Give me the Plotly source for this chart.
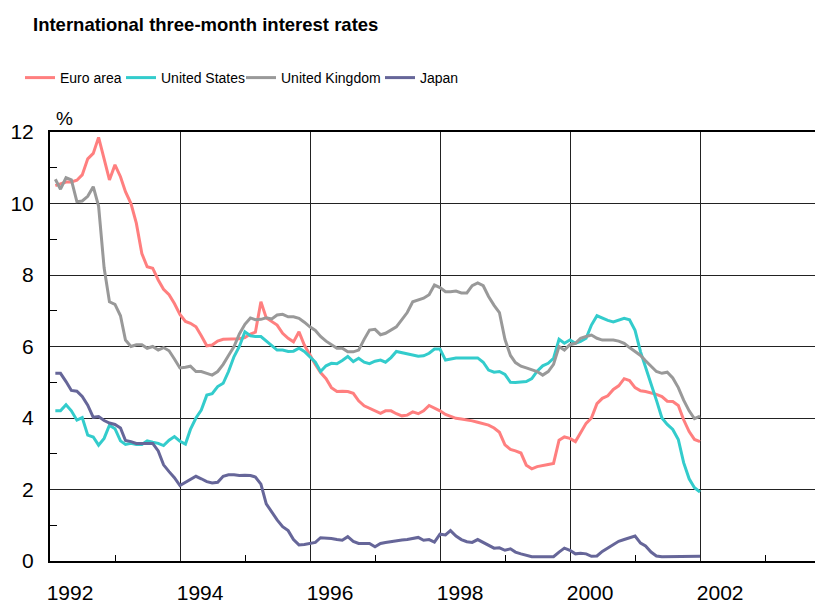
import plotly.graph_objects as go
import pandas as pd

# monthly observations, end of month, Jan 1992 - Dec 2001
months = pd.date_range("1992-01-31", "2001-12-31", freq="ME")

euro_area = [
    10.5, 10.55, 10.6, 10.6, 10.65, 10.8, 11.25, 11.4, 11.85, 11.25, 10.66, 11.08,
    10.75, 10.33, 10.0, 9.45, 8.6, 8.23, 8.19, 7.86, 7.6, 7.45, 7.2, 6.9,
    6.7, 6.65, 6.55, 6.3, 6.02, 6.04, 6.15, 6.2, 6.2, 6.2, 6.22, 6.25,
    6.35, 6.4, 7.25, 6.8, 6.7, 6.6, 6.37, 6.23, 6.13, 6.41, 6.04, 5.75,
    5.5, 5.27, 5.1, 4.85, 4.74, 4.75, 4.74, 4.69, 4.48, 4.34, 4.27, 4.18,
    4.13, 4.2, 4.2, 4.12, 4.06, 4.08, 4.17, 4.12, 4.2, 4.35, 4.28, 4.2,
    4.1, 4.04, 3.99, 3.97, 3.95, 3.92, 3.88, 3.85, 3.8, 3.72, 3.6, 3.25,
    3.12, 3.08, 3.02, 2.68, 2.58, 2.64, 2.68, 2.7, 2.73, 3.38, 3.47, 3.43,
    3.34, 3.6, 3.85, 4.0, 4.4, 4.55, 4.62, 4.8, 4.9, 5.1, 5.05, 4.85,
    4.76, 4.74, 4.71, 4.66, 4.6, 4.47, 4.46, 4.35, 3.95, 3.62, 3.4, 3.34,
]

united_states = [
    4.2, 4.2, 4.37, 4.2, 3.94, 4.01, 3.52, 3.47, 3.24, 3.43, 3.8, 3.7,
    3.36, 3.26, 3.29, 3.26, 3.26, 3.36, 3.32, 3.29, 3.23, 3.38, 3.48, 3.35,
    3.27, 3.68, 4.0, 4.22, 4.64, 4.68, 4.88, 4.97, 5.3, 5.72, 6.0, 6.41,
    6.3, 6.28, 6.28, 6.15, 6.04, 5.9, 5.9, 5.86, 5.87, 5.95, 5.86, 5.7,
    5.56, 5.3, 5.46, 5.53, 5.52, 5.61, 5.72, 5.58, 5.67, 5.56, 5.52, 5.59,
    5.62, 5.56, 5.69, 5.86, 5.83, 5.8, 5.76, 5.73, 5.74, 5.81, 5.93, 5.93,
    5.62, 5.65, 5.68, 5.68, 5.68, 5.68, 5.68, 5.56, 5.34, 5.28, 5.3, 5.22,
    5.0, 4.99, 5.0, 5.02, 5.1, 5.31, 5.46, 5.53, 5.67, 6.2, 6.09, 6.18,
    6.09, 6.14, 6.23, 6.6, 6.86, 6.79, 6.73, 6.69, 6.74, 6.79, 6.75, 6.45,
    5.85, 5.4, 4.95, 4.5, 4.0, 3.82, 3.68, 3.4, 2.75, 2.3, 2.05, 1.93,
]

united_kingdom = [
    10.68, 10.4, 10.72, 10.66, 10.05, 10.07, 10.2, 10.47, 9.93, 8.2, 7.25, 7.18,
    6.86, 6.18, 6.0, 6.05, 6.05, 5.95, 6.0, 5.9, 5.97, 5.88, 5.65, 5.4,
    5.42, 5.45, 5.3, 5.3, 5.25, 5.2, 5.3, 5.5, 5.75, 6.0, 6.35, 6.62,
    6.8, 6.75, 6.76, 6.8, 6.77, 6.88, 6.9, 6.83, 6.83, 6.79, 6.68, 6.55,
    6.45, 6.28, 6.15, 6.04, 5.95, 5.95, 5.85, 5.85, 5.9, 6.2, 6.46, 6.48,
    6.33, 6.37, 6.45, 6.55, 6.75, 6.95, 7.25, 7.3, 7.35, 7.45, 7.72, 7.65,
    7.53, 7.53, 7.55, 7.5, 7.5, 7.7, 7.78, 7.7, 7.4, 7.15, 6.95, 6.2,
    5.75, 5.55, 5.45, 5.4, 5.35, 5.3, 5.2, 5.3, 5.5, 6.0, 5.9, 6.05,
    6.09, 6.23, 6.28, 6.32, 6.23, 6.18, 6.18, 6.18, 6.15, 6.09, 5.97, 5.87,
    5.75, 5.6, 5.45, 5.3, 5.25, 5.28, 5.12, 4.85, 4.5, 4.2, 3.98, 4.05,
]

japan = [
    5.25, 5.25, 5.02, 4.77, 4.75, 4.6, 4.36, 4.02, 4.04, 3.93, 3.86, 3.82,
    3.72, 3.37, 3.34, 3.29, 3.29, 3.29, 3.29, 3.08, 2.69, 2.5, 2.33, 2.11,
    2.2, 2.29, 2.37, 2.3, 2.22, 2.18, 2.2, 2.37, 2.41, 2.41, 2.39, 2.4,
    2.39, 2.35, 2.15, 1.6, 1.36, 1.15, 0.96, 0.85, 0.6, 0.45, 0.46, 0.5,
    0.52, 0.65, 0.65, 0.63, 0.6, 0.58, 0.68, 0.55, 0.49, 0.5, 0.49, 0.4,
    0.49, 0.52, 0.55, 0.57, 0.59, 0.6, 0.63, 0.66, 0.58, 0.6, 0.53, 0.75,
    0.73, 0.85, 0.7, 0.6, 0.54, 0.52, 0.6, 0.52, 0.45, 0.36, 0.37, 0.3,
    0.34, 0.25, 0.2, 0.15, 0.12, 0.12, 0.12, 0.12, 0.12, 0.25, 0.36, 0.3,
    0.2, 0.22, 0.2, 0.13, 0.14, 0.27, 0.36, 0.45, 0.55, 0.6, 0.65, 0.7,
    0.5, 0.42, 0.25, 0.14, 0.12, 0.12, 0.12, 0.12, 0.12, 0.12, 0.12, 0.13,
]

series = [
    ("Euro area", euro_area, "#FF7F7F"),
    ("United States", united_states, "#33CCCC"),
    ("United Kingdom", united_kingdom, "#999999"),
    ("Japan", japan, "#666699"),
]

# the page body adds an 8px margin, so the figure is 8px smaller each way
W, H = 815, 597

# one legend per series so each entry sits where the original has it
legend_ids = ["legend", "legend2", "legend3", "legend4"]
legend_x = [12, 113, 233, 372]

fig = go.Figure()
for (name, vals, col), lid in zip(series, legend_ids):
    fig.add_trace(go.Scatter(x=months, y=vals, name=name, mode="lines",
                             line=dict(color=col, width=3), legend=lid))

legend_style = dict(orientation="h", xref="container", yref="container",
                    y=1 - 70 / H, yanchor="middle", font=dict(size=14),
                    itemwidth=30, bgcolor="rgba(0,0,0,0)")
legends = {lid: dict(legend_style, x=lx / W) for lid, lx in zip(legend_ids, legend_x)}

fig.update_layout(
    width=W, height=H, showlegend=True,
    margin=dict(l=42, r=0, t=124, b=44, autoexpand=False),
    paper_bgcolor="white", plot_bgcolor="white",
    font=dict(family="Liberation Sans, Arial", size=21, color="black"),
    title=dict(text="<b>International three-month interest rates</b>",
               x=25 / W, xanchor="left", y=1 - 17 / H, yanchor="middle",
               font=dict(size=18.5, color="black")),
    annotations=[dict(text="%", xref="paper", yref="paper", x=0, y=1,
                      xanchor="left", yanchor="middle", xshift=4, yshift=14,
                      showarrow=False, font=dict(size=19))],
    **legends,
)

fig.update_xaxes(
    type="date", range=["1992-01-01", "2003-11-22"], automargin=False,
    tick0="1992-01-01", dtick="M24", tickformat="%Y",
    showgrid=True, gridcolor="#222222", gridwidth=1,
    showline=True, linecolor="black", linewidth=2, mirror=True,
    ticks="", ticklabelshift=20, ticklabelstandoff=12, zeroline=False,
    minor=dict(tick0="1992-01-01", dtick="M12", ticks="inside", ticklen=6,
               tickcolor="black", showgrid=False),
)
fig.update_yaxes(
    range=[0, 12], tick0=0, dtick=2, automargin=False,
    showgrid=True, gridcolor="#222222", gridwidth=1,
    showline=True, linecolor="black", linewidth=2,
    ticks="", ticklabelstandoff=10, zeroline=False,
    minor=dict(dtick=1, ticks="inside", ticklen=7, tickcolor="black", showgrid=False),
)

fig.write_html("out.html")
